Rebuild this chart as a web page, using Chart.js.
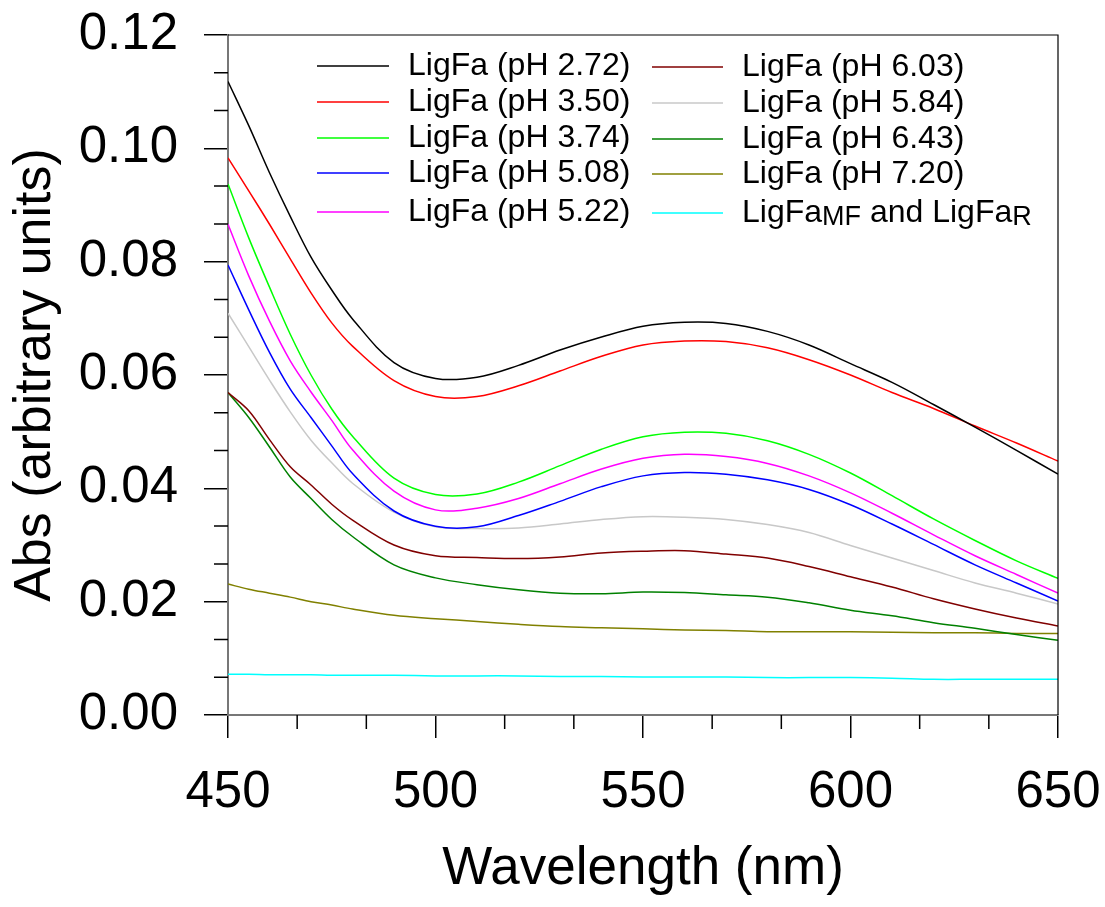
<!DOCTYPE html>
<html>
<head>
<meta charset="utf-8">
<script src="https://cdn.jsdelivr.net/npm/chart.js@4.4.0/dist/chart.umd.min.js"></script>
<style>
body { margin: 0; background: #fff; }
</style>
</head>
<body>
<canvas id="myChart" width="1105" height="907"></canvas>
<script>
// wavelengths (nm)
const wavelength = [450, 455, 460, 465, 470, 475, 480, 490, 500, 510, 520, 530, 540, 550, 560, 570, 580, 590, 600, 610, 620, 630, 640, 650];

// absorbance per sample
const ph272 = [0.1118, 0.1040, 0.0957, 0.0880, 0.0808, 0.0750, 0.0699, 0.0622, 0.0594, 0.0596, 0.0617, 0.0644, 0.0667, 0.0686, 0.0693, 0.0691, 0.0677, 0.0653, 0.0620, 0.0587, 0.0548, 0.0508, 0.0467, 0.0425];
const ph350 = [0.0983, 0.0925, 0.0866, 0.0805, 0.0745, 0.0692, 0.0651, 0.0590, 0.0562, 0.0562, 0.0581, 0.0607, 0.0633, 0.0653, 0.0660, 0.0659, 0.0648, 0.0627, 0.0600, 0.0569, 0.0541, 0.0510, 0.0480, 0.0448];
const ph374 = [0.0937, 0.0842, 0.0755, 0.0672, 0.0600, 0.0540, 0.0492, 0.0418, 0.0389, 0.0390, 0.0411, 0.0440, 0.0469, 0.0491, 0.0499, 0.0497, 0.0484, 0.0460, 0.0427, 0.0387, 0.0346, 0.0308, 0.0272, 0.0241];
const ph508 = [0.0794, 0.0715, 0.0640, 0.0575, 0.0525, 0.0475, 0.0426, 0.0360, 0.0333, 0.0332, 0.0352, 0.0377, 0.0403, 0.0422, 0.0428, 0.0425, 0.0415, 0.0398, 0.0371, 0.0337, 0.0301, 0.0265, 0.0233, 0.0201];
const ph522 = [0.0866, 0.0775, 0.0695, 0.0625, 0.0570, 0.0520, 0.0468, 0.0395, 0.0362, 0.0365, 0.0382, 0.0408, 0.0434, 0.0453, 0.0460, 0.0456, 0.0444, 0.0422, 0.0392, 0.0356, 0.0318, 0.0281, 0.0248, 0.0215];
const ph603 = [0.0569, 0.0537, 0.0486, 0.0438, 0.0406, 0.0372, 0.0344, 0.0300, 0.0281, 0.0278, 0.0276, 0.0279, 0.0286, 0.0289, 0.0290, 0.0284, 0.0277, 0.0262, 0.0244, 0.0226, 0.0205, 0.0187, 0.0171, 0.0157];
const ph584 = [0.0709, 0.0650, 0.0591, 0.0535, 0.0485, 0.0445, 0.0409, 0.0358, 0.0332, 0.0329, 0.0330, 0.0337, 0.0345, 0.0350, 0.0349, 0.0345, 0.0336, 0.0322, 0.0299, 0.0277, 0.0255, 0.0233, 0.0215, 0.0196];
const ph643 = [0.0569, 0.0525, 0.0473, 0.0420, 0.0382, 0.0345, 0.0315, 0.0265, 0.0242, 0.0230, 0.0221, 0.0215, 0.0214, 0.0217, 0.0216, 0.0212, 0.0208, 0.0198, 0.0185, 0.0175, 0.0163, 0.0153, 0.0142, 0.0132];
const ph720 = [0.0231, 0.0222, 0.0215, 0.0208, 0.0200, 0.0194, 0.0187, 0.0176, 0.0170, 0.0165, 0.0160, 0.0156, 0.0154, 0.0152, 0.0150, 0.0149, 0.0147, 0.0147, 0.0147, 0.0146, 0.0145, 0.0145, 0.0144, 0.0144];
const mfAndR = [0.0072, 0.0072, 0.0071, 0.0071, 0.0071, 0.0070, 0.0070, 0.0070, 0.0069, 0.0069, 0.0069, 0.0068, 0.0068, 0.0067, 0.0067, 0.0067, 0.0066, 0.0066, 0.0066, 0.0065, 0.0063, 0.0063, 0.0063, 0.0063];

const labels = ['LigFa (pH 2.72)', 'LigFa (pH 3.50)', 'LigFa (pH 3.74)', 'LigFa (pH 5.08)', 'LigFa (pH 5.22)',
                'LigFa (pH 6.03)', 'LigFa (pH 5.84)', 'LigFa (pH 6.43)', 'LigFa (pH 7.20)', 'LigFaMF and LigFaR'];
const series = [ph272, ph350, ph374, ph508, ph522, ph603, ph584, ph643, ph720, mfAndR];
const colors = ['#000000', '#ff0000', '#00ff00', '#0000ff', '#ff00ff', '#800000', '#c8c8c8', '#008000', '#808000', '#00ffff'];

const FONT = '"Liberation Sans", Arial, Helvetica, sans-serif';
Chart.defaults.font.family = FONT;
Chart.defaults.color = '#000';

const datasets = series.map((s, i) => ({
    label: labels[i],
    data: s.map((v, j) => ({ x: wavelength[j], y: v })),
    borderColor: colors[i],
    borderWidth: 1.5,
    pointRadius: 0,
    tension: 0.35,
    fill: false
}));

// minor ticks + frame on top and right
const frame = {
    id: 'frame',
    afterDraw(chart) {
        const c = chart.ctx;
        const a = chart.chartArea;
        const xs = chart.scales.x, ys = chart.scales.y;
        c.save();
        c.strokeStyle = '#000';
        c.lineWidth = 1.5;
        c.beginPath();
        for (let k = 0; k <= 18; k++) {
            if (k % 3 === 0) continue;
            const py = ys.getPixelForValue(k * 0.02 / 3);
            c.moveTo(a.left - 14, py); c.lineTo(a.left, py);
        }
        for (let k = 0; k <= 12; k++) {
            if (k % 3 === 0) continue;
            const px = xs.getPixelForValue(450 + k * 50 / 3);
            c.moveTo(px, a.bottom); c.lineTo(px, a.bottom + 14);
        }
        c.stroke();
        c.lineWidth = 1.2;
        c.beginPath();
        c.moveTo(a.left, a.top); c.lineTo(a.right, a.top); c.lineTo(a.right, a.bottom);
        c.stroke();
        c.restore();
    }
};

// two-column legend inside the plot
const legendBox = {
    id: 'legendBox',
    afterDraw(chart) {
        const c = chart.ctx;
        const cols = [{ x1: 317, x2: 389, tx: 408 }, { x1: 652, x2: 723, tx: 742 }];
        const rowY = [66, 102, 138, 173, 212];
        c.save();
        c.textBaseline = 'middle';
        chart.data.datasets.forEach((ds, i) => {
            const col = cols[Math.floor(i / 5)];
            const y = rowY[i % 5] + (i >= 5 ? 1 : 0);
            c.strokeStyle = ds.borderColor;
            c.lineWidth = 1.5;
            c.beginPath(); c.moveTo(col.x1, y); c.lineTo(col.x2, y); c.stroke();
            c.fillStyle = '#000';
            if (i === 9) {
                const parts = [['LigFa', 0], ['MF', 1], [' and LigFa', 0], ['R', 1]];
                let x = col.tx;
                parts.forEach(p => {
                    c.font = (p[1] ? 27 : 32) + 'px ' + FONT;
                    c.fillText(p[0], x, y + (p[1] ? 5 : 0));
                    x += c.measureText(p[0]).width;
                });
            } else {
                c.font = '32px ' + FONT;
                c.fillText(ds.label, col.tx, y);
            }
        });
        c.restore();
    }
};

const ctx = document.getElementById('myChart').getContext('2d');
const myChart = new Chart(ctx, {
    type: 'line',
    data: { datasets: datasets },
    options: {
        responsive: false,
        animation: false,
        layout: { padding: { top: 35, right: 47, left: 0, bottom: 0 } },
        plugins: { legend: { display: false }, tooltip: { enabled: false } },
        scales: {
            x: {
                type: 'linear', min: 450, max: 650,
                afterFit: s => { s.height = 192; s.paddingLeft = 0; s.paddingRight = 0; },
                ticks: { stepSize: 50, font: { size: 51 }, color: '#000', padding: 24 },
                grid: { drawOnChartArea: false, tickLength: 23, color: '#000', lineWidth: 1.5 },
                border: { color: '#777', width: 2 },
                title: { display: true, text: 'Wavelength (nm)', font: { size: 53 }, color: '#000', padding: { top: 0, bottom: 6 } }
            },
            y: {
                min: 0, max: 0.12,
                afterFit: s => { s.width = 228; s.paddingTop = 0; s.paddingBottom = 0; },
                ticks: { stepSize: 0.02, font: { size: 51 }, color: '#000', padding: 26, callback: v => v.toFixed(2) },
                grid: { drawOnChartArea: false, tickLength: 24, color: '#000', lineWidth: 1.5 },
                border: { color: '#777', width: 2 },
                title: { display: true, text: 'Abs (arbitrary units)', font: { size: 52 }, color: '#000', padding: { top: 4, bottom: 0 } }
            }
        }
    },
    plugins: [frame, legendBox]
});
</script>
</body>
</html>
